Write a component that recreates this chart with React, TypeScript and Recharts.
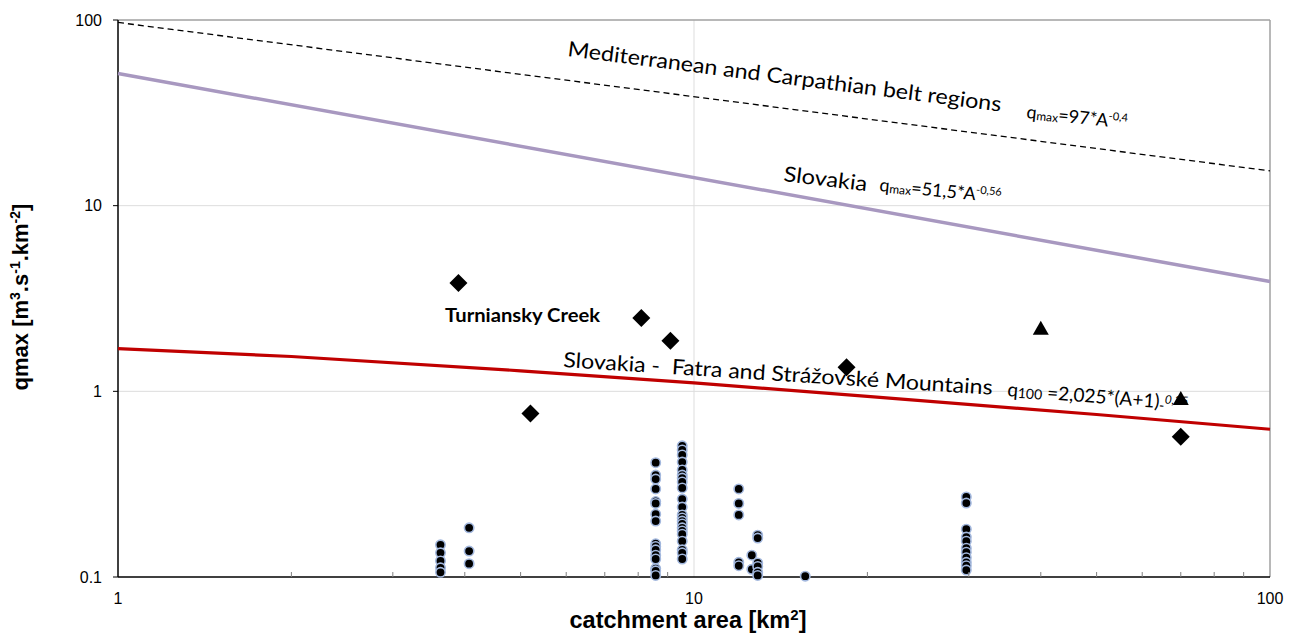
import React from 'react';
import { ComposedChart, Scatter, XAxis, YAxis, ReferenceLine } from 'recharts';

// ---- data ----
const xTicks = [1, 2, 3, 4, 5, 6, 7, 8, 9, 10, 20, 30, 40, 50, 60, 70, 80, 90, 100];
const xLabelTicks = [1, 10, 100];
const yTicks = [0.1, 1, 10, 100];

// envelope curves
const medA = [1, 100];
const medQ = [97, 15.4];
const skA = [1, 100];
const skQ = [51.5, 3.9];
const fatraA = [1, 2, 5, 10, 20, 50, 100];
const fatraQ = [1.7, 1.54, 1.29, 1.11, 0.94, 0.75, 0.625];

// diamonds
const diamondA = [3.9, 5.2, 8.1, 9.1, 18.4, 70];
const diamondQ = [3.83, 0.76, 2.48, 1.87, 1.35, 0.57];
// triangles
const triangleA = [40, 70];
const triangleQ = [2.17, 0.91];
// circles grouped by catchment area
const circleA = [3.63, 4.07, 8.58, 9.54, 11.96, 12.6, 12.9, 15.6, 29.7];
const circleQ = [
  [0.149, 0.135, 0.122, 0.112, 0.106],
  [0.184, 0.138, 0.118],
  [0.413, 0.354, 0.337, 0.298, 0.255, 0.249, 0.218, 0.2, 0.151, 0.146, 0.14, 0.131, 0.125, 0.111, 0.108, 0.102],
  [0.509, 0.483, 0.454, 0.416, 0.377, 0.354, 0.341, 0.325, 0.302, 0.263, 0.238, 0.216, 0.208, 0.2, 0.193, 0.184, 0.177, 0.17, 0.156, 0.14, 0.135, 0.125],
  [0.298, 0.249, 0.216, 0.12, 0.115],
  [0.131, 0.11],
  [0.168, 0.162, 0.119, 0.114, 0.106, 0.102],
  [0.101],
  [0.27, 0.25, 0.181, 0.164, 0.156, 0.143, 0.136, 0.127, 0.12, 0.115, 0.109],
];

const pairs = (a: number[], q: number[]) => a.map((x, i) => ({ x, y: q[i] }));
const medData = pairs(medA, medQ);
const skData = pairs(skA, skQ);
const fatraData = pairs(fatraA, fatraQ);
const diamondData = pairs(diamondA, diamondQ);
const triangleData = pairs(triangleA, triangleQ);
const circleData = circleA.flatMap((x, i) => circleQ[i].map((y) => ({ x, y })));

const AX_FONT = "Arial, 'Liberation Sans', sans-serif";
const TXT_FONT = "Lato, 'Open Sans', sans-serif";

const NoShape = () => <g />;
const Diamond = (p: any) => (
  <path d={`M${p.cx},${p.cy - 9}L${p.cx + 9},${p.cy}L${p.cx},${p.cy + 9}L${p.cx - 9},${p.cy}Z`} fill="#000" />
);
const Triangle = (p: any) => (
  <path d={`M${p.cx},${p.cy - 8}L${p.cx + 8},${p.cy + 6}L${p.cx - 8},${p.cy + 6}Z`} fill="#000" />
);
const Dot = (p: any) => <circle cx={p.cx} cy={p.cy} r={4.7} fill="#000" stroke="#A3B8DE" strokeWidth={1.6} />;

const XTick = (props: any) => {
  const { x, y, payload } = props;
  const v = payload.value;
  if (xLabelTicks.includes(v)) {
    return (
      <text x={x} y={y + 27} textAnchor="middle" fontSize={16} fontFamily={AX_FONT} fill="#000">
        {v}
      </text>
    );
  }
  return <line x1={x} x2={x} y1={y - 5} y2={y} stroke="#808080" strokeWidth={1} />;
};

const Annotations = () => (
  <svg width={1298} height={634} style={{ position: 'absolute', left: 0, top: 0, pointerEvents: 'none' }}>
    <g fontFamily={TXT_FONT} fill="#000">
      <text transform="translate(567,56) rotate(7.3)" fontSize={21} textLength={437} lengthAdjust="spacingAndGlyphs">
        Mediterranean and Carpathian belt regions
      </text>
      <text transform="translate(1026,118) rotate(6)" fontSize={18}>
        q<tspan fontSize={12} dy={1}>max</tspan>
        <tspan dy={-1}>=97*A</tspan>
        <tspan fontSize={11} dy={-7}>-0,4</tspan>
      </text>
      <text transform="translate(783,181) rotate(7)" fontSize={21} textLength={84} lengthAdjust="spacingAndGlyphs">
        Slovakia
      </text>
      <text transform="translate(879,191) rotate(5.5)" fontSize={18}>
        q<tspan fontSize={12} dy={1}>max</tspan>
        <tspan dy={-1}>=51,5*A</tspan>
        <tspan fontSize={11} dy={-7}>-0,56</tspan>
      </text>
      <text x={445} y={322} fontSize={19} fontWeight="bold" textLength={155} lengthAdjust="spacingAndGlyphs">
        Turniansky Creek
      </text>
      <text transform="translate(563,367) rotate(3.7)" fontSize={21} textLength={430} lengthAdjust="spacingAndGlyphs" style={{ whiteSpace: 'pre' }}>
        Slovakia -  Fatra and Strážovské Mountains
      </text>
      <text transform="translate(1007,396) rotate(4.5)" fontSize={19}>
        q<tspan fontSize={14} dy={1}>100</tspan>
        <tspan dy={-1}> =2,025*(A+1)</tspan>
        <tspan fontSize={14} dy={2}>-</tspan>
        <tspan fontSize={12} fontStyle="italic" dy={-7}>0,25</tspan>
      </text>
    </g>
    <g fontFamily={AX_FONT} fontWeight="bold" fill="#000">
      <text transform="translate(28,297) rotate(-90)" textAnchor="middle" fontSize={22}>
        qmax [m<tspan fontSize={14} dy={-8}>3</tspan>
        <tspan dy={8}>.s</tspan>
        <tspan fontSize={14} dy={-8}>-1</tspan>
        <tspan dy={8}>.km</tspan>
        <tspan fontSize={14} dy={-8}>-2</tspan>
        <tspan dy={8}>]</tspan>
      </text>
      <text x={688} y={628} textAnchor="middle" fontSize={23.5}>
        catchment area [km<tspan fontSize={15} dy={-8}>2</tspan>
        <tspan dy={8}>]</tspan>
      </text>
    </g>
  </svg>
);

export default function App() {
  return (
    <div style={{ position: 'absolute', left: 0, top: 0, width: 1298, height: 634, background: '#fff' }}>
      <ComposedChart width={1298} height={634} margin={{ top: 20, right: 28, left: 0, bottom: 0 }}>
        <XAxis
          type="number"
          dataKey="x"
          scale="log"
          domain={[1, 100]}
          ticks={xTicks}
          interval={0}
          tick={<XTick />}
          tickLine={false}
          tickSize={0}
          tickMargin={0}
          height={57}
          axisLine={{ stroke: '#000', strokeWidth: 1.5 }}
        />
        <YAxis
          type="number"
          dataKey="y"
          scale="log"
          domain={[0.1, 100]}
          ticks={yTicks}
          interval={0}
          width={118}
          tickSize={5}
          tickMargin={11}
          tickLine={{ stroke: '#000' }}
          tick={{ fontSize: 16, fill: '#000', fontFamily: AX_FONT }}
          axisLine={{ stroke: '#000', strokeWidth: 1.5 }}
        />
        <ReferenceLine y={1} stroke="#DDDDDD" strokeWidth={1} />
        <ReferenceLine y={10} stroke="#DDDDDD" strokeWidth={1} />
        <ReferenceLine x={10} stroke="#DDDDDD" strokeWidth={1} />
        <ReferenceLine y={100} stroke="#A0A0A0" strokeWidth={1.5} />
        <ReferenceLine x={100} stroke="#A0A0A0" strokeWidth={1.5} />
        <Scatter data={medData} line={{ stroke: '#000', strokeWidth: 1.3, strokeDasharray: '6 4' }} shape={<NoShape />} isAnimationActive={false} />
        <Scatter data={skData} line={{ stroke: '#A898C0', strokeWidth: 3.5 }} shape={<NoShape />} isAnimationActive={false} />
        <Scatter data={fatraData} line={{ stroke: '#C00000', strokeWidth: 3.2 }} shape={<NoShape />} isAnimationActive={false} />
        <Scatter data={circleData} shape={<Dot />} isAnimationActive={false} />
        <Scatter data={diamondData} shape={<Diamond />} isAnimationActive={false} />
        <Scatter data={triangleData} shape={<Triangle />} isAnimationActive={false} />
      </ComposedChart>
      <Annotations />
    </div>
  );
}
